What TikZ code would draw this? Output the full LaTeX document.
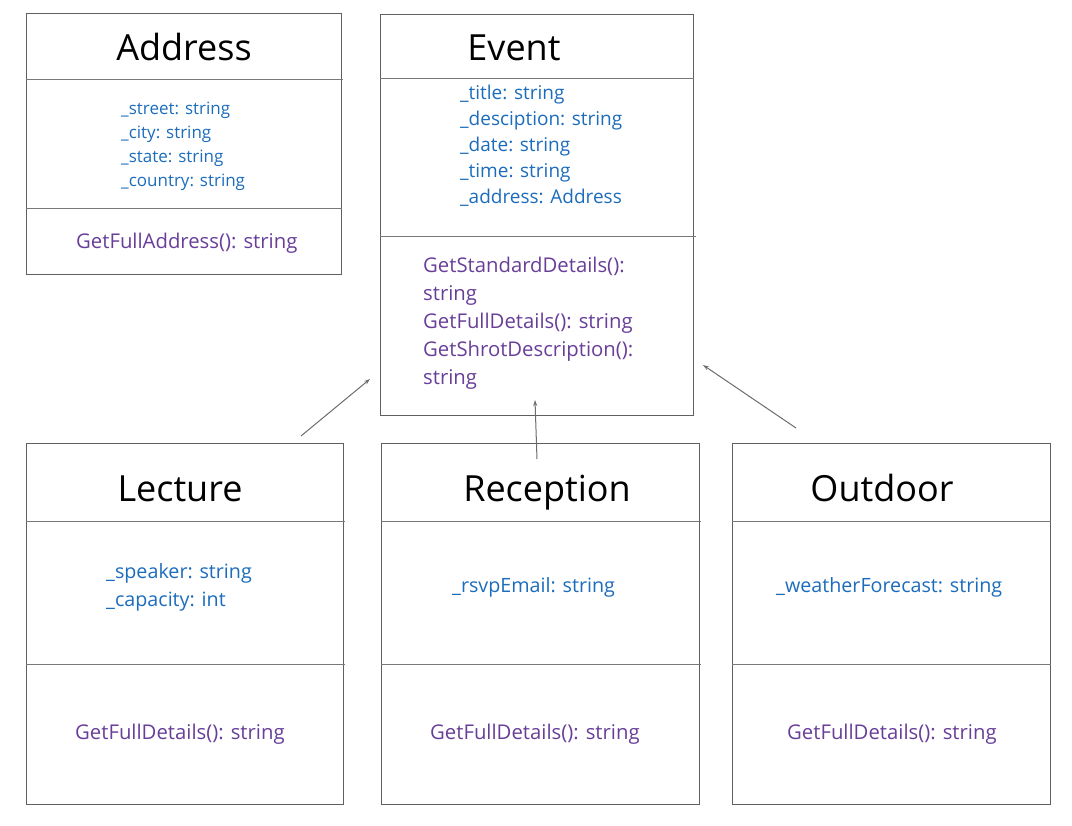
\documentclass[tikz,border=0pt]{standalone}
\usepackage{fontspec}
\setmainfont{Open Sans}
\usetikzlibrary{arrows.meta}
\definecolor{attrblue}{RGB}{28,108,188}
\definecolor{methpurple}{RGB}{104,62,152}
\definecolor{boxgray}{RGB}{96,96,96}
\begin{document}
\begin{tikzpicture}[x=1pt,y=-1pt,
 class box/.style={draw=boxgray,line width=1pt,anchor=north west,inner sep=0pt},
 title/.style={font=\fontsize{36}{40}\selectfont,inner sep=0pt,anchor=base},
 attr/.style={anchor=west,align=left,inner sep=0pt,text=attrblue},
 meth/.style={anchor=west,align=left,inner sep=0pt,text=methpurple},
 divider/.style={draw=boxgray!85,line width=1pt},
 inherit/.style={draw=gray!85!black,line width=1pt,-{Stealth[length=6pt,width=4pt]}}]

  \useasboundingbox (0,0) rectangle (1072,826);

  % classes
  \node[class box,minimum width=315,minimum height=261] (address) at (26,13) {};
  \node[class box,minimum width=313,minimum height=401] (event) at (380,14) {};
  \node[class box,minimum width=317,minimum height=361] (lecture) at (26,443) {};
  \node[class box,minimum width=318,minimum height=361] (reception) at (381,443) {};
  \node[class box,minimum width=318,minimum height=361] (outdoor) at (732,443) {};

  \node[title] (t1) at (184,61) {Address};
  \node[title] (t2) at (514,61) {Event};
  \node[title] (t3) at (180,501) {Lecture};
  \node[title] (t4) at (547,501) {Reception};
  \node[title] (t5) at (882,501) {Outdoor};

  \draw[divider] (address.west |- 0,80) -- (343,80);
  \draw[divider] (address.west |- 0,209) -- (address.east |- 0,209);
  \draw[divider] (event.west |- 0,79) -- (event.east |- 0,79);
  \draw[divider] (event.west |- 0,237) -- (696,237);
  \draw[divider] (lecture.west |- 0,521) -- (345,521);
  \draw[divider] (lecture.west |- 0,664) -- (345,664);
  \draw[divider] (reception.west |- 0,521) -- (701,521);
  \draw[divider] (reception.west |- 0,664) -- (701,664);
  \draw[divider] (outdoor.west |- 0,521) -- (outdoor.east |- 0,521);
  \draw[divider] (outdoor.west |- 0,664) -- (outdoor.east |- 0,664);

  % members
  \node[attr,font=\fontsize{17}{24}\selectfont] (a1) at (121,146)
    {\_street: string\\\_city: string\\\_state: string\\\_country: string};
  \node[meth,font=\fontsize{20.3}{28}\selectfont] (m1) at (76,243) {GetFullAddress(): string};

  \node[attr,font=\fontsize{19}{26}\selectfont] (a2) at (460,146)
    {\_title: string\\\_desciption: string\\\_date: string\\\_time: string\\\_address: Address};
  \node[meth,font=\fontsize{20.3}{28}\selectfont] (m2) at (423,323)
    {GetStandardDetails():\\string\\GetFullDetails(): string\\GetShrotDescription():\\string};

  \node[attr,font=\fontsize{19.7}{28}\selectfont] (a3) at (106,587)
    {\_speaker: string\\\_capacity: int};
  \node[meth,font=\fontsize{20.3}{28}\selectfont] (m3) at (75,734) {GetFullDetails(): string};

  \node[attr,font=\fontsize{19.7}{28}\selectfont] (a4) at (452,587) {\_rsvpEmail: string};
  \node[meth,font=\fontsize{20.3}{28}\selectfont] (m4) at (430,734) {GetFullDetails(): string};

  \node[attr,font=\fontsize{19.7}{28}\selectfont] (a5) at (776,587) {\_weatherForecast: string};
  \node[meth,font=\fontsize{20.3}{28}\selectfont] (m5) at (787,734) {GetFullDetails(): string};

  % inheritance arrows
  \coordinate (lec tail) at (301,436);
  \coordinate (lec head) at (370,379);
  \coordinate (rec tail) at (537,459);
  \coordinate (rec head) at (535,400);
  \coordinate (out tail) at (796,428);
  \coordinate (out head) at (703,365);
  \draw[inherit] (lec tail) -- (lec head);
  \draw[inherit] (rec tail) -- (rec head);
  \draw[inherit] (out tail) -- (out head);
\end{tikzpicture}
\end{document}
